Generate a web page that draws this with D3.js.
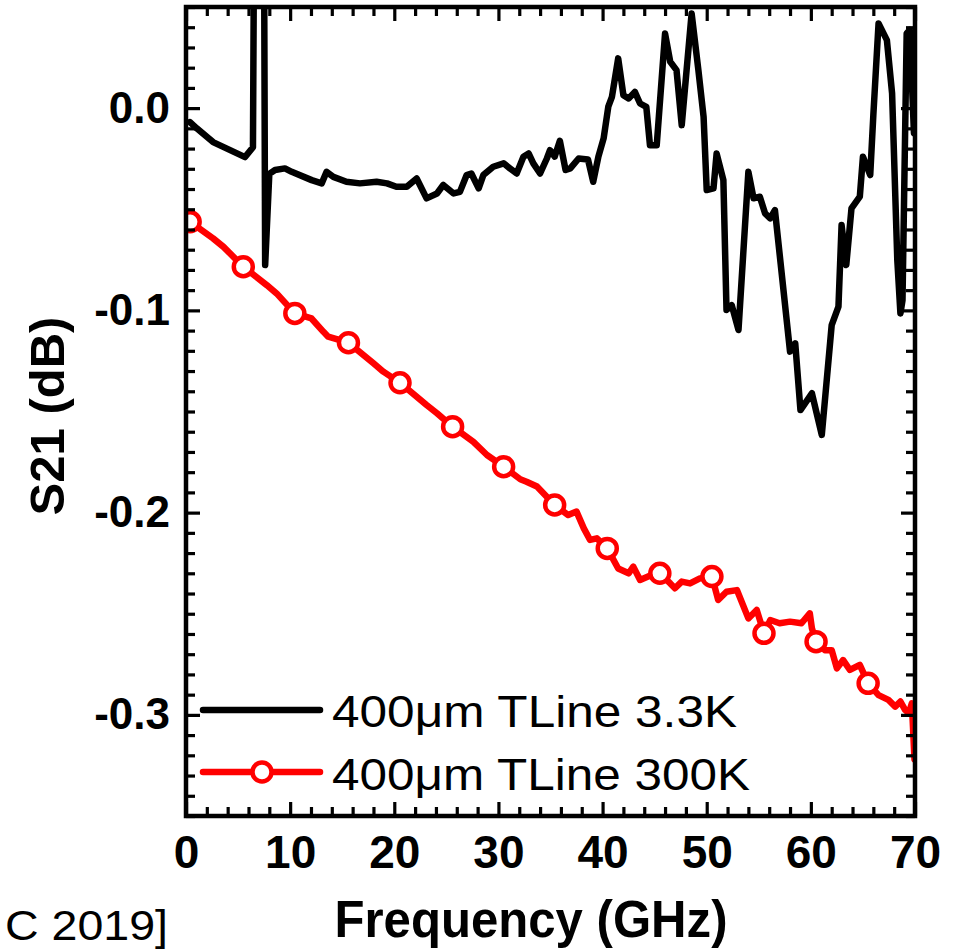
<!DOCTYPE html>
<html>
<head>
<meta charset="utf-8">
<script src="https://cdn.jsdelivr.net/npm/d3@7"></script>
<style>
  html, body { margin: 0; padding: 0; background: #fff; }
  svg { display: block; }
  text { font-family: "Liberation Sans", Arial, sans-serif; }
</style>
</head>
<body>
<svg id="chart" width="958" height="950"></svg>
<script>
// ---------- data ----------
const freq33K = [0.38, 1.03, 2.6, 5.67, 6.43, 6.75, 7.35, 7.6, 8.0, 8.55, 9.5, 10.15, 12.07, 13.03, 13.5, 14.15, 15.4, 16.7, 18.3, 19.3, 20.2, 21.2, 22.15, 23.1, 24.1, 24.7, 25.7, 26.3, 26.95, 27.4, 28.1, 28.55, 29.5, 30.5, 31.1, 31.75, 32.4, 32.9, 33.35, 34.0, 34.65, 34.95, 35.4, 35.9, 36.45, 36.9, 37.7, 38.6, 39.1, 39.6, 40.1, 40.55, 40.9, 41.5, 42.0, 42.5, 43.1, 43.6, 44.2, 44.55, 45.2, 46.0, 46.5, 47.1, 47.6, 48.55, 49.2, 49.7, 50.0, 50.65, 50.95, 51.6, 51.9, 52.4, 53.05, 54.0, 54.5, 55.1, 55.6, 56.1, 56.55, 58.0, 58.5, 59.0, 60.1, 61.05, 62.0, 62.65, 62.95, 63.4, 63.9, 64.7, 65.0, 65.7, 66.0, 66.5, 67.3, 67.8, 68.3, 68.6, 68.8, 69.2, 69.5, 69.9];
const s21_33K = [-0.0069, -0.010, -0.0168, -0.0242, -0.0193, 0.30, 0.30, -0.0776, -0.0325, -0.0306, -0.0298, -0.0315, -0.0356, -0.0372, -0.0315, -0.034, -0.0364, -0.0372, -0.0364, -0.0372, -0.0389, -0.0389, -0.0348, -0.0446, -0.0422, -0.038, -0.0422, -0.0414, -0.0331, -0.0323, -0.0397, -0.0331, -0.029, -0.0273, -0.0298, -0.0323, -0.024, -0.0224, -0.0273, -0.0323, -0.0249, -0.0208, -0.024, -0.0162, -0.0306, -0.0298, -0.0249, -0.0254, -0.0364, -0.024, -0.015, 0.0007, 0.0056, 0.0246, 0.0064, 0.0048, 0.008, 0.0023, 0.0006, -0.0183, -0.0183, 0.0369, 0.0229, 0.0188, -0.0084, 0.0468, 0.0188, -0.0043, -0.0405, -0.0397, -0.0224, -0.0356, -0.0998, -0.0974, -0.1097, -0.0315, -0.0446, -0.0438, -0.052, -0.0545, -0.0504, -0.1204, -0.1163, -0.1493, -0.141, -0.1616, -0.1073, -0.0982, -0.0578, -0.0776, -0.0496, -0.0438, -0.024, -0.0331, -0.0035, 0.0419, 0.0336, 0.0073, -0.0751, -0.1015, -0.095, 0.0369, 0.0386, -0.0124];

const freq300K = [0.4, 2.6, 3.6, 5.5, 7.75, 8.7, 10.45, 12.05, 13.2, 13.65, 15.6, 18.0, 18.95, 20.55, 23.1, 24.1, 25.6, 27.6, 28.9, 30.5, 32.1, 32.7, 33.7, 35.4, 36.7, 37.5, 38.2, 38.8, 39.45, 40.45, 41.5, 42.5, 42.95, 43.6, 44.7, 45.5, 46.5, 46.95, 47.6, 48.4, 49.35, 50.5, 51.1, 51.9, 52.9, 54.0, 54.8, 55.5, 56.1, 57.0, 58.0, 59.1, 59.9, 60.1, 60.5, 61.35, 62.0, 62.5, 63.1, 63.75, 64.7, 65.5, 66.5, 67.45, 68.1, 68.6, 69.05, 69.4, 69.7, 69.95];
const s21_300K = [-0.0562, -0.0644, -0.0686, -0.0784, -0.0875, -0.0916, -0.1015, -0.104, -0.1106, -0.113, -0.116, -0.1262, -0.1303, -0.1358, -0.1468, -0.1509, -0.1575, -0.165, -0.1715, -0.1773, -0.1835, -0.1847, -0.1871, -0.1962, -0.2012, -0.1995, -0.2078, -0.2135, -0.2127, -0.2177, -0.2276, -0.23, -0.2267, -0.2333, -0.2308, -0.23, -0.235, -0.2374, -0.2341, -0.235, -0.2325, -0.2316, -0.2432, -0.2391, -0.2383, -0.2523, -0.2481, -0.2597, -0.2531, -0.2547, -0.2539, -0.2547, -0.2498, -0.2572, -0.2638, -0.268, -0.268, -0.277, -0.2729, -0.2778, -0.2753, -0.2844, -0.2902, -0.2926, -0.2959, -0.2934, -0.2975, -0.2992, -0.2943, -0.322];

const markerFreq300K = [0.4, 5.5, 10.45, 15.6, 20.55, 25.6, 30.5, 35.4, 40.45, 45.5, 50.5, 55.5, 60.5, 65.5];
const markerS21_300K = [-0.0562, -0.0784, -0.1015, -0.116, -0.1358, -0.1575, -0.1773, -0.1962, -0.2177, -0.23, -0.2316, -0.2597, -0.2638, -0.2844];

const seriesLabels = ["400\u03bcm TLine 3.3K", "400\u03bcm TLine 300K"];
const seriesColors = ["#000000", "#ff0000"];

const xMajorTicks = [0, 10, 20, 30, 40, 50, 60, 70];
const xMinorTicks = [2, 4, 6, 8, 12, 14, 16, 18, 22, 24, 26, 28, 32, 34, 36, 38, 42, 44, 46, 48, 52, 54, 56, 58, 62, 64, 66, 68];
const yMajorTicks = [-0.3, -0.2, -0.1, 0.0];
const yMinorTicks = d3.range(-35, 6).filter(i => i % 10 !== 0).map(i => i / 100);

const xTitle = "Frequency (GHz)";
const yTitle = "S21 (dB)";
const citeText = "C 2019]";

// ---------- layout ----------
const L = 186, R = 915, T = 7, B = 816;
const x = d3.scaleLinear().domain([0, 70]).range([L, R]);
const y = d3.scaleLinear().domain([-0.35, 0.05]).range([B, T]);

const svg = d3.select("#chart");
svg.append("rect").attr("width", 958).attr("height", 950).attr("fill", "#fff");

svg.append("defs").append("clipPath").attr("id", "plotClip")
  .append("rect").attr("x", L).attr("y", T).attr("width", R - L + 1).attr("height", B - T);

// data lines
const line = d3.line().x(d => x(d[0])).y(d => y(d[1]));
const plot = svg.append("g").attr("clip-path", "url(#plotClip)");

plot.append("path")
  .datum(d3.zip(freq33K, s21_33K))
  .attr("d", line)
  .attr("fill", "none").attr("stroke", seriesColors[0])
  .attr("stroke-width", 6.5).attr("stroke-linejoin", "round").attr("stroke-linecap", "round");

plot.append("path")
  .datum(d3.zip(freq300K, s21_300K))
  .attr("d", line)
  .attr("fill", "none").attr("stroke", seriesColors[1])
  .attr("stroke-width", 6.5).attr("stroke-linejoin", "round").attr("stroke-linecap", "round");

plot.selectAll("circle.m300")
  .data(d3.zip(markerFreq300K, markerS21_300K))
  .join("circle").attr("class", "m300")
  .attr("cx", d => x(d[0])).attr("cy", d => y(d[1])).attr("r", 9.5)
  .attr("fill", "#fff").attr("stroke", seriesColors[1]).attr("stroke-width", 4.5);

// axes
function styleAxis(g, fontSize) {
  g.select(".domain").remove();
  g.selectAll(".tick line").attr("stroke", "#000").attr("stroke-width", 3.2);
  g.selectAll(".tick text").attr("fill", "#000").attr("font-weight", "bold")
    .attr("font-size", fontSize).attr("font-family", "'Liberation Sans', Arial, sans-serif");
}
const fmtY = d => (Math.abs(d) < 1e-9 ? "0.0" : d.toFixed(1));

// bottom
svg.append("g").attr("transform", `translate(0,${B})`)
  .call(d3.axisBottom(x).tickValues(xMajorTicks).tickSize(-14).tickPadding(19).tickFormat(d3.format("d")))
  .call(g => styleAxis(g, 46));
svg.append("g").attr("transform", `translate(0,${B})`)
  .call(d3.axisBottom(x).tickValues(xMinorTicks).tickSize(-9).tickFormat(""))
  .call(g => styleAxis(g, 10));
// top
svg.append("g").attr("transform", `translate(0,${T})`)
  .call(d3.axisTop(x).tickValues(xMajorTicks).tickSize(-14).tickFormat(""))
  .call(g => styleAxis(g, 10));
svg.append("g").attr("transform", `translate(0,${T})`)
  .call(d3.axisTop(x).tickValues(xMinorTicks).tickSize(-9).tickFormat(""))
  .call(g => styleAxis(g, 10));
// left
svg.append("g").attr("transform", `translate(${L},0)`)
  .call(d3.axisLeft(y).tickValues(yMajorTicks).tickSize(-14).tickPadding(16).tickFormat(fmtY))
  .call(g => styleAxis(g, 44));
svg.append("g").attr("transform", `translate(${L},0)`)
  .call(d3.axisLeft(y).tickValues(yMinorTicks).tickSize(-9).tickFormat(""))
  .call(g => styleAxis(g, 10));
// right
svg.append("g").attr("transform", `translate(${R},0)`)
  .call(d3.axisRight(y).tickValues(yMajorTicks).tickSize(-14).tickFormat(""))
  .call(g => styleAxis(g, 10));
svg.append("g").attr("transform", `translate(${R},0)`)
  .call(d3.axisRight(y).tickValues(yMinorTicks).tickSize(-9).tickFormat(""))
  .call(g => styleAxis(g, 10));

// frame
svg.append("rect").attr("x", L).attr("y", T).attr("width", R - L).attr("height", B - T)
  .attr("fill", "none").attr("stroke", "#000").attr("stroke-width", 4.5);

// axis titles
svg.append("text").attr("x", 531).attr("y", 937).attr("text-anchor", "middle")
  .attr("font-size", 52).attr("font-weight", "bold").attr("fill", "#000")
  .attr("textLength", 393).attr("lengthAdjust", "spacingAndGlyphs")
  .text(xTitle);

svg.append("text").attr("transform", "translate(64,416) rotate(-90)").attr("text-anchor", "middle")
  .attr("font-size", 49).attr("font-weight", "bold").attr("fill", "#000")
  .text(yTitle);

// citation fragment
svg.append("text").attr("x", 5).attr("y", 940).attr("font-size", 42).attr("fill", "#000")
  .attr("textLength", 163).attr("lengthAdjust", "spacingAndGlyphs")
  .text(citeText);

// legend
const legend = svg.append("g");
const legRows = [710, 772];
legend.append("line").attr("x1", 203).attr("x2", 320).attr("y1", legRows[0]).attr("y2", legRows[0])
  .attr("stroke", seriesColors[0]).attr("stroke-width", 6.5).attr("stroke-linecap", "round");
legend.append("line").attr("x1", 203).attr("x2", 320).attr("y1", legRows[1]).attr("y2", legRows[1])
  .attr("stroke", seriesColors[1]).attr("stroke-width", 6.5).attr("stroke-linecap", "round");
legend.append("circle").attr("cx", 262).attr("cy", legRows[1]).attr("r", 9.5)
  .attr("fill", "#fff").attr("stroke", seriesColors[1]).attr("stroke-width", 4.5);
legend.append("text").attr("x", 332).attr("y", 727).attr("font-size", 45).attr("fill", "#000")
  .attr("textLength", 405).attr("lengthAdjust", "spacingAndGlyphs").text(seriesLabels[0]);
legend.append("text").attr("x", 332).attr("y", 790).attr("font-size", 45).attr("fill", "#000")
  .attr("textLength", 418).attr("lengthAdjust", "spacingAndGlyphs").text(seriesLabels[1]);
</script>
</body>
</html>
